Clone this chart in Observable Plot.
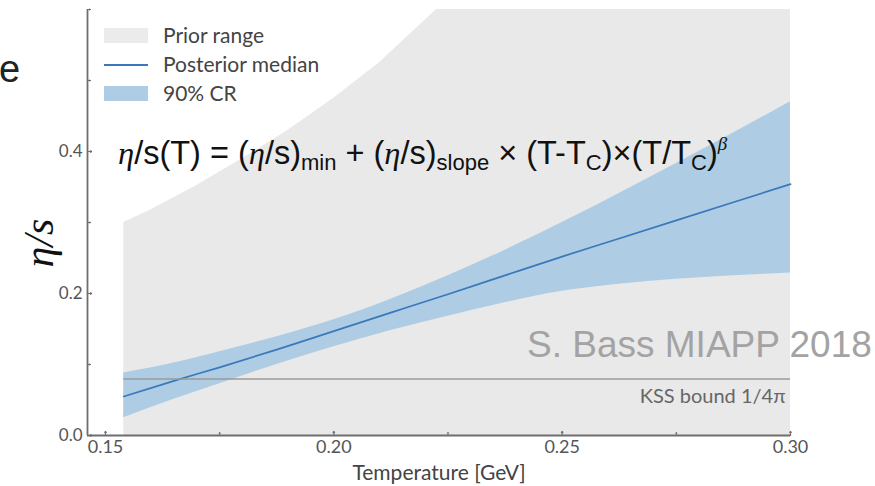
<!DOCTYPE html>
<html><head><meta charset="utf-8">
<script src="https://cdn.jsdelivr.net/npm/d3@7"></script>
<script src="https://cdn.jsdelivr.net/npm/@observablehq/plot@0.6"></script>
<style>
body{margin:0;background:#fff;}
#chart{width:875px;height:486px;}
</style></head><body><div id="chart"></div>
<script>
// Prior range (upper edge; lower edge is 0)
const priorT  = [0.154, 0.16, 0.17, 0.18, 0.19, 0.20, 0.21, 0.2225, 0.30];
const priorHi = [0.300, 0.318, 0.352, 0.390, 0.430, 0.475, 0.525, 0.600, 0.600];
// Posterior median and 90% credible region
const postT   = [0.154, 0.165, 0.175, 0.1875, 0.20, 0.2125, 0.225, 0.2375, 0.25, 0.2625, 0.275, 0.2875, 0.30];
const median  = [0.055, 0.077, 0.096, 0.121, 0.147, 0.173, 0.199, 0.2255, 0.252, 0.2775, 0.303, 0.3285, 0.354];
const crHi    = [0.088, 0.102, 0.118, 0.139, 0.163, 0.192, 0.225, 0.261, 0.300, 0.341, 0.383, 0.426, 0.470];
const crLo    = [0.025, 0.051, 0.073, 0.100, 0.125, 0.148, 0.168, 0.187, 0.203, 0.213, 0.220, 0.225, 0.229];
// KSS bound
const kssValue = 1 / (4 * Math.PI);
const kssRange = [0.154, 0.30];
const kssLabel = "KSS bound 1/4\u03c0";
// Axes
const xDomain = [0.14606, 0.30];
const yDomain = [0, 0.6];
const xTicks = [0.15, 0.20, 0.25, 0.30];
const xMinor = [0.175, 0.225, 0.275];
const yTicks = [0.0, 0.2, 0.4];
const yMinor = [0.1, 0.3, 0.5, 0.6];
const xLabel = "Temperature [GeV]";
const yLabel = "\u03b7/s";
const legendLabels = ["Prior range", "Posterior median", "90% CR"];

const prior = priorT.map((T, i) => ({T, hi: priorHi[i]}));
const post = postT.map((T, i) => ({T, v: median[i], hi: crHi[i], lo: crLo[i]}));

const axisColor = "#6e6e6e";
const plot = Plot.plot({
  width: 875, height: 486,
  marginLeft: 87, marginRight: 85, marginTop: 9, marginBottom: 51,
  x: {domain: xDomain},
  y: {domain: yDomain},
  style: {fontFamily: "Lato", background: "white", overflow: "visible"},
  marks: [
    Plot.areaY(prior, {x: "T", y1: 0, y2: "hi", fill: "#e9e9e9"}),
    Plot.areaY(post, {x: "T", y1: "lo", y2: "hi", fill: "#aecde4", curve: "monotone-x"}),
    Plot.lineY(post, {x: "T", y: "v", stroke: "#3a78bb", strokeWidth: 1.7, curve: "monotone-x"}),
    Plot.ruleY([kssValue], {x1: kssRange[0], x2: kssRange[1], stroke: "#9a9a9a", strokeWidth: 1.6}),
    Plot.text([kssLabel], {x: kssRange[1], y: kssValue, dx: -5, dy: 18, textAnchor: "end", fontSize: 20, fill: "#666"}),
    Plot.ruleY([yDomain[0]], {stroke: axisColor, strokeWidth: 1.8}),
    Plot.ruleX([xDomain[0]], {stroke: axisColor, strokeWidth: 1.8}),
    Plot.vector(xTicks, {x: d => d, y: yDomain[0], length: 4, rotate: 0, anchor: "start", stroke: axisColor, strokeWidth: 1.2}),
    Plot.vector(xMinor, {x: d => d, y: yDomain[0], length: 3, rotate: 0, anchor: "start", stroke: axisColor, strokeWidth: 1}),
    Plot.vector(yTicks, {x: xDomain[0], y: d => d, length: 4, rotate: 90, anchor: "start", stroke: axisColor, strokeWidth: 1.2}),
    Plot.vector(yMinor, {x: xDomain[0], y: d => d, length: 3, rotate: 90, anchor: "start", stroke: axisColor, strokeWidth: 1}),
    Plot.axisX({ticks: xTicks, tickSize: 0, tickPadding: 5, tickFormat: d3.format(".2f"), fontSize: 18, color: "#555", label: null}),
    Plot.axisY({ticks: yTicks, tickSize: 0, tickPadding: 5, tickFormat: d3.format(".1f"), fontSize: 17, color: "#555", label: null}),
    Plot.text([xLabel], {frameAnchor: "bottom", dy: 44, fontSize: 21, fill: "#444"})
  ]
});
document.getElementById("chart").appendChild(plot);

const svg = d3.select(plot);
// Y axis label
svg.append("text").attr("transform", "translate(43,243) rotate(-90)")
  .attr("text-anchor", "middle").attr("dominant-baseline", "middle")
  .attr("font-family", "Liberation Serif").attr("font-style", "italic")
  .attr("font-size", 42).attr("fill", "#111").text(yLabel);
// Legend
const lg = svg.append("g").attr("font-family", "Lato").attr("font-size", 21).attr("fill", "#444").attr("text-anchor", "start");
lg.append("rect").attr("x", 104).attr("y", 28).attr("width", 44).attr("height", 15).attr("fill", "#ebebeb");
lg.append("line").attr("x1", 104).attr("x2", 148).attr("y1", 65).attr("y2", 65).attr("stroke", "#3a78bb").attr("stroke-width", 2);
lg.append("rect").attr("x", 104).attr("y", 86).attr("width", 44).attr("height", 15).attr("fill", "#aecde4");
legendLabels.forEach((t, i) => lg.append("text").attr("x", 163).attr("y", 43 + i * 29).text(t));

// Formula
const f = svg.append("text").attr("x", 118).attr("y", 164).attr("text-anchor", "start")
  .attr("font-family", "Liberation Sans, Arial").attr("font-size", 32.5).attr("fill", "#111");
const parts = [
  ["\u03b7", "it"], ["/s(T) = ("], ["\u03b7", "it"], ["/s)"], ["min", "sub"],
  [" + ("], ["\u03b7", "it"], ["/s)"], ["slope", "sub"], [" \u00d7 (T-T"], ["C", "sub"],
  [")\u00d7(T/T"], ["C", "sub"], [")"], ["\u03b2", "sup"]
];
let shift = 0;
parts.forEach(([t, k]) => {
  const ts = f.append("tspan").text(t);
  let target = 0;
  if (k === "it") ts.attr("font-style", "italic").attr("font-family", "Liberation Serif");
  if (k === "sub") { ts.attr("font-size", 22); target = 6; }
  if (k === "sup") { ts.attr("font-size", 19).attr("font-style", "italic").attr("font-family", "Liberation Serif"); target = -14; }
  ts.attr("dy", target - shift);
  shift = target;
});

// Watermark
svg.append("text").attr("x", 527).attr("y", 357).attr("text-anchor", "start").attr("font-family", "Liberation Sans, Arial")
  .attr("font-size", 37).attr("fill", "#a3a3a3").text("S. Bass MIAPP 2018");
// Slide text fragment
svg.append("text").attr("x", -1).attr("y", 82).attr("text-anchor", "start").attr("font-family", "Liberation Sans, Arial")
  .attr("font-size", 38).attr("fill", "#222").text("e");
</script></body></html>
